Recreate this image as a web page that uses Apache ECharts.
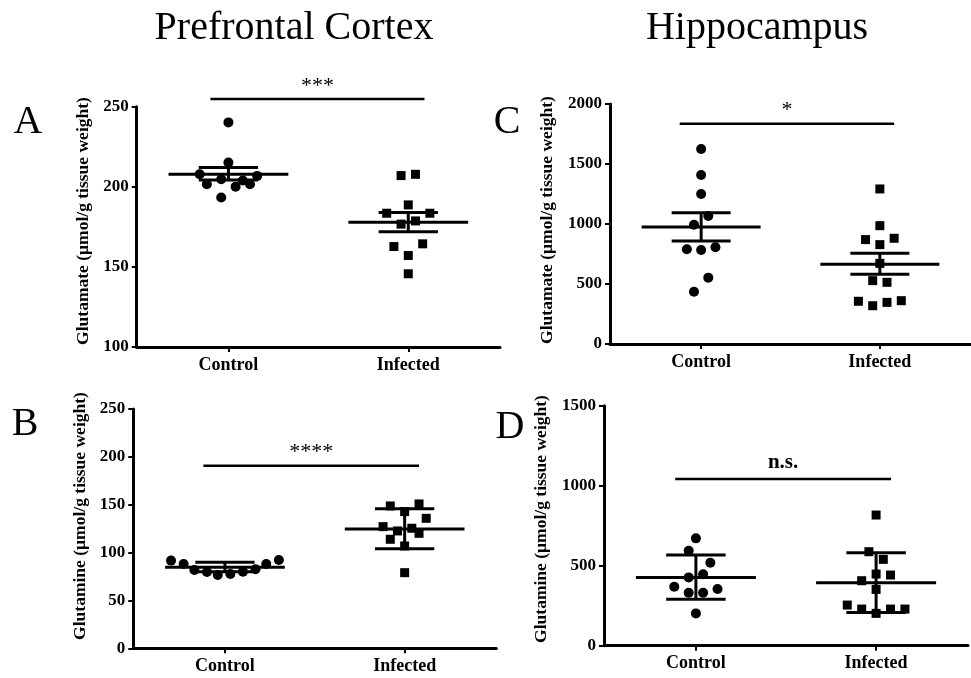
<!DOCTYPE html>
<html>
<head>
<meta charset="utf-8">
<script src="https://cdn.jsdelivr.net/npm/echarts@6/dist/echarts.min.js"></script>
<style>
  html, body { margin: 0; padding: 0; background: #fff; }
  #chart { width: 971px; height: 678px; }
</style>
</head>
<body>
<div id="chart"></div>
<script>
const categories = ['Control', 'Infected'];

// A: prefrontal cortex glutamate
const aControl = [240.2, 215.1, 207.8, 204.7, 201.6, 200.1, 201.6, 203.9, 206.8, 193.3];
const aControlJitter = [0, 0, -0.16, -0.04, -0.12, 0.04, 0.12, 0.08, 0.16, -0.04];
const aInfected = [207, 207.8, 188.7, 183.5, 183.5, 178.7, 176.7, 162.7, 164.4, 157.1, 145.7];
const aInfectedJitter = [-0.04, 0.04, 0, -0.12, 0.12, 0.04, -0.04, -0.08, 0.08, 0, 0];
const aSummary = [[207.8, 204.3, 212.0], [177.9, 171.9, 183.9]]; // mean, low, high
const aSig = { from: 0.9, to: 2.09, y: 254.8, text: '***' };

// B: prefrontal cortex glutamine
const bControl = [91.6, 88.1, 81.8, 79.7, 76.6, 77.6, 80.1, 82.5, 88.1, 92.3];
const bControlJitter = [-0.3, -0.23, -0.17, -0.1, -0.04, 0.03, 0.1, 0.17, 0.23, 0.3];
const bInfected = [148.7, 150.8, 142.8, 135.8, 127.1, 122.6, 125.4, 120.1, 113.9, 106.9, 79.0];
const bInfectedJitter = [-0.08, 0.08, 0, 0.12, -0.12, -0.04, 0.04, 0.08, -0.08, 0, 0];
const bSummary = [[84.8, 80.0, 90.0], [124.7, 104.1, 145.9]];
const bSig = { from: 0.88, to: 2.08, y: 190.8, text: '****' };

// C: hippocampus glutamate
const cControl = [1625, 1408, 1250, 1067, 994, 789, 783, 806, 553, 436];
const cControlJitter = [0, 0, 0, 0.04, -0.04, -0.08, 0, 0.08, 0.04, -0.04];
const cInfected = [1292, 986, 870, 881, 828, 672, 528, 514, 356, 319, 347, 361];
const cInfectedJitter = [0, 0, -0.08, 0.08, 0, 0, -0.04, 0.04, -0.12, -0.04, 0.04, 0.12];
const cSummary = [[975, 858, 1094], [664, 581, 756]];
const cSig = { from: 0.88, to: 2.08, y: 1836, text: '*' };

// D: hippocampus glutamine
const dControl = [670.8, 593.7, 518.7, 445.8, 427, 368.7, 331.2, 331.2, 354.2, 202];
const dControlJitter = [0, -0.04, 0.08, 0.04, -0.04, -0.12, -0.04, 0.04, 0.12, 0];
const dInfected = [816.7, 587.5, 539.6, 447.9, 441.7, 406.2, 352, 254, 229, 202, 229, 229];
const dInfectedJitter = [0, -0.04, 0.04, 0, 0.08, -0.08, 0, -0.16, -0.08, 0, 0.08, 0.16];
const dSummary = [[427, 290, 567], [394, 208, 581]];
const dSig = { from: 0.885, to: 2.083, y: 1042, text: 'n.s.' };

const yRanges = {
  A: { min: 100, max: 250, interval: 50 },
  B: { min: 0, max: 250, interval: 50 },
  C: { min: 0, max: 2000, interval: 500 },
  D: { min: 0, max: 1500, interval: 500 },
};

const SERIF = '"Liberation Serif", "Times New Roman", serif';
const MEAN_HALF = 0.333;
const CAP_HALF = 0.165;

const panels = [
  { key: 'A', grid: { left: 136.7, top: 106.7, width: 363.3, height: 240.3 },
    control: aControl, cj: aControlJitter, infected: aInfected, ij: aInfectedJitter, summary: aSummary, sig: aSig },
  { key: 'B', grid: { left: 133.3, top: 409, width: 363, height: 239.3 },
    control: bControl, cj: bControlJitter, infected: bInfected, ij: bInfectedJitter, summary: bSummary, sig: bSig },
  { key: 'C', grid: { left: 610, top: 104, width: 361, height: 240 },
    control: cControl, cj: cControlJitter, infected: cInfected, ij: cInfectedJitter, summary: cSummary, sig: cSig },
  { key: 'D', grid: { left: 604, top: 405.7, width: 364, height: 240 },
    control: dControl, cj: dControlJitter, infected: dInfected, ij: dInfectedJitter, summary: dSummary, sig: dSig },
];

const chart = echarts.init(document.getElementById('chart'), null, { renderer: 'canvas' });

const grid = [], xAxis = [], yAxis = [], series = [];
panels.forEach((p, i) => {
  grid.push(p.grid);
  xAxis.push({
    type: 'value', gridIndex: i, min: 0.49, max: 2.51,
    splitLine: { show: false },
    axisLine: { onZero: false, lineStyle: { color: '#000', width: 3 } },
    axisTick: { customValues: [1, 2], length: 5, lineStyle: { color: '#000', width: 2 } },
    axisLabel: {
      customValues: [1, 2], margin: 9, color: '#000', fontFamily: SERIF, fontWeight: 'bold', fontSize: 18,
      formatter: (v) => categories[Math.round(v) - 1] || '',
    },
  });
  const r = yRanges[p.key];
  yAxis.push({
    type: 'value', gridIndex: i, min: r.min, max: r.max, interval: r.interval,
    splitLine: { show: false },
    axisLine: { show: true, lineStyle: { color: '#000', width: 3 } },
    axisTick: { show: true, length: 5, lineStyle: { color: '#000', width: 2 } },
    axisLabel: { margin: 8, color: '#000', fontFamily: SERIF, fontWeight: 'bold', fontSize: 17, formatter: (v) => String(v) },
  });
  series.push({
    type: 'scatter', xAxisIndex: i, yAxisIndex: i, symbol: 'circle', symbolSize: 10,
    itemStyle: { color: '#000', opacity: 1 }, silent: true,
    data: p.control.map((v, k) => [1 + p.cj[k], v]),
  });
  series.push({
    type: 'scatter', xAxisIndex: i, yAxisIndex: i, symbol: 'rect', symbolSize: 9,
    itemStyle: { color: '#000', opacity: 1 }, silent: true,
    data: p.infected.map((v, k) => [2 + p.ij[k], v]),
  });
  series.push({
    type: 'custom', xAxisIndex: i, yAxisIndex: i, silent: true, z: 5,
    data: p.summary.map((s, k) => [k + 1, s[0], s[1], s[2]]),
    renderItem: (params, api) => {
      const x = api.value(0);
      const pt = (xx, yy) => api.coord([xx, yy]);
      const style = { stroke: '#000', lineWidth: 3 };
      const seg = (a, b) => ({ type: 'line', shape: { x1: a[0], y1: a[1], x2: b[0], y2: b[1] }, style });
      return {
        type: 'group',
        children: [
          seg(pt(x - MEAN_HALF, api.value(1)), pt(x + MEAN_HALF, api.value(1))),
          seg(pt(x - CAP_HALF, api.value(2)), pt(x + CAP_HALF, api.value(2))),
          seg(pt(x - CAP_HALF, api.value(3)), pt(x + CAP_HALF, api.value(3))),
          seg(pt(x, api.value(2)), pt(x, api.value(3))),
        ],
      };
    },
  });
  series.push({
    type: 'custom', xAxisIndex: i, yAxisIndex: i, silent: true, clip: false,
    data: [[p.sig.from, p.sig.to, p.sig.y]],
    encode: { x: [0, 1], y: 2 },
    renderItem: (params, api) => {
      const a = api.coord([api.value(0), api.value(2)]);
      const b = api.coord([api.value(1), api.value(2)]);
      const isText = p.sig.text === 'n.s.';
      return {
        type: 'group',
        children: [
          { type: 'line', shape: { x1: a[0], y1: a[1], x2: b[0], y2: b[1] }, style: { stroke: '#000', lineWidth: 2.5 } },
          {
            type: 'text', x: (a[0] + b[0]) / 2, y: a[1] - (isText ? 6 : 2),
            style: {
              text: p.sig.text, fill: '#000', align: 'center', verticalAlign: 'bottom',
              font: (isText ? 'bold 21px ' : '22px ') + SERIF,
            },
          },
        ],
      };
    },
  });
});

const textEl = (text, x, y, size, opts = {}) => ({
  type: 'text', x, y, rotation: opts.rotation || 0,
  style: {
    text, fill: '#000', align: 'center', verticalAlign: 'middle',
    font: (opts.bold ? 'bold ' : '') + size + 'px ' + SERIF,
  },
});

chart.setOption({
  animation: false,
  backgroundColor: '#fff',
  grid, xAxis, yAxis, series,
  graphic: [
    textEl('Prefrontal Cortex', 294, 28, 40),
    textEl('Hippocampus', 757, 28, 40),
    textEl('A', 28, 122, 40),
    textEl('B', 25, 424, 40),
    textEl('C', 507, 122, 40),
    textEl('D', 510, 427, 40),
    textEl('Glutamate (\u00b5mol/g tissue weight)', 83, 221, 17.5, { bold: true, rotation: Math.PI / 2 }),
    textEl('Glutamine (\u00b5mol/g tissue weight)', 80, 516, 17.5, { bold: true, rotation: Math.PI / 2 }),
    textEl('Glutamate (\u00b5mol/g tissue weight)', 547, 220, 17.5, { bold: true, rotation: Math.PI / 2 }),
    textEl('Glutamine (\u00b5mol/g tissue weight)', 541, 519, 17.5, { bold: true, rotation: Math.PI / 2 }),
  ],
});
</script>
</body>
</html>
